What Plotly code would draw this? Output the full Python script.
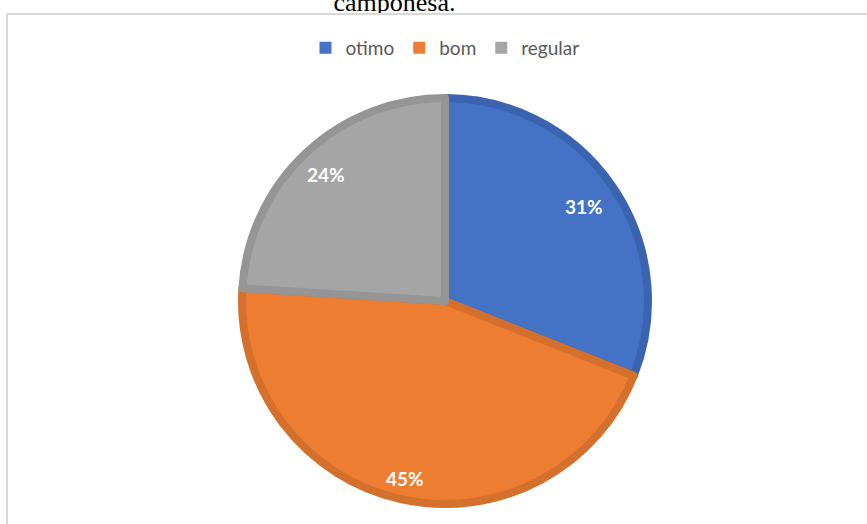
import math
import plotly.graph_objects as go

# Survey result shares
categories = ["otimo", "bom", "regular"]
values = [31, 45, 24]
fill_colors = ["#4472C4", "#ED7D31", "#A5A5A5"]
edge_colors = ["#3A64B0", "#D5702C", "#959595"]
caption = "camponesa."

W, H = 867, 524
cx, cy = 445, 301          # pie centre in pixels
R = 207                    # outer radius in pixels
edge_w = 8
r_pie = R - edge_w / 2
label_radius = [0.81, 0.88, 0.84]


def px_x(x):
    return x / W


def px_y(y):
    return 1 - y / H


fig = go.Figure()

# legend entries with plain solid swatches (tiny pie hidden under the main one)
fig.add_trace(go.Pie(
    labels=categories,
    values=values,
    sort=False,
    direction="clockwise",
    textinfo="none",
    hoverinfo="skip",
    marker=dict(colors=fill_colors, line=dict(width=0)),
    domain=dict(x=[px_x(cx - 1), px_x(cx + 1)], y=[px_y(cy + 1), px_y(cy - 1)]),
    showlegend=True,
))

fig.add_trace(go.Pie(
    labels=categories,
    values=values,
    sort=False,
    direction="clockwise",
    rotation=0,
    textinfo="none",
    hoverinfo="label+percent",
    marker=dict(colors=fill_colors, line=dict(color=edge_colors, width=edge_w)),
    domain=dict(x=[px_x(cx - r_pie), px_x(cx + r_pie)],
                y=[px_y(cy + r_pie), px_y(cy - r_pie)]),
    showlegend=False,
))

# caption text from the surrounding document, clipped by the chart frame
fig.add_trace(go.Scatter(
    x=[0.455], y=[-0.35], mode="text", text=[caption],
    textposition="top center",
    textfont=dict(family="Liberation Serif", size=26, color="#000000"),
    cliponaxis=True, showlegend=False, hoverinfo="skip",
    xaxis="x", yaxis="y",
))

# percentage labels placed near the outer end of each slice
total = sum(values)
acc = 0
annotations = []
for v, k in zip(values, label_radius):
    mid = (acc + v / 2) / total * 2 * math.pi
    acc += v
    lx = cx + k * R * math.sin(mid)
    ly = cy - k * R * math.cos(mid)
    annotations.append(dict(
        x=px_x(lx), y=px_y(ly), xref="paper", yref="paper",
        text=f"<b>{round(100 * v / total)}%</b>", showarrow=False,
        font=dict(family="Lato", size=19, color="#FFFFFF"),
        xanchor="center", yanchor="middle",
    ))

shapes = [
    dict(type="line", xref="paper", yref="paper",
         x0=px_x(7), x1=1.01, y0=px_y(14), y1=px_y(14),
         line=dict(color="#D9D9D9", width=2)),
    dict(type="line", xref="paper", yref="paper",
         x0=px_x(7), x1=px_x(7), y0=px_y(14), y1=-0.01,
         line=dict(color="#D9D9D9", width=2)),
]

fig.update_layout(
    width=W, height=H,
    margin=dict(l=0, r=0, t=0, b=0),
    paper_bgcolor="#FFFFFF",
    plot_bgcolor="rgba(0,0,0,0)",
    xaxis=dict(domain=[0, 1], range=[0, 1], visible=False, fixedrange=True),
    yaxis=dict(domain=[px_y(13), 1], range=[0, 1], visible=False, fixedrange=True),
    legend=dict(orientation="h", x=px_x(445), y=px_y(48),
                xanchor="center", yanchor="middle",
                font=dict(family="Lato", size=19, color="#595959"),
                itemwidth=30, traceorder="normal"),
    annotations=annotations,
    shapes=shapes,
)

fig.write_html("out.html")
